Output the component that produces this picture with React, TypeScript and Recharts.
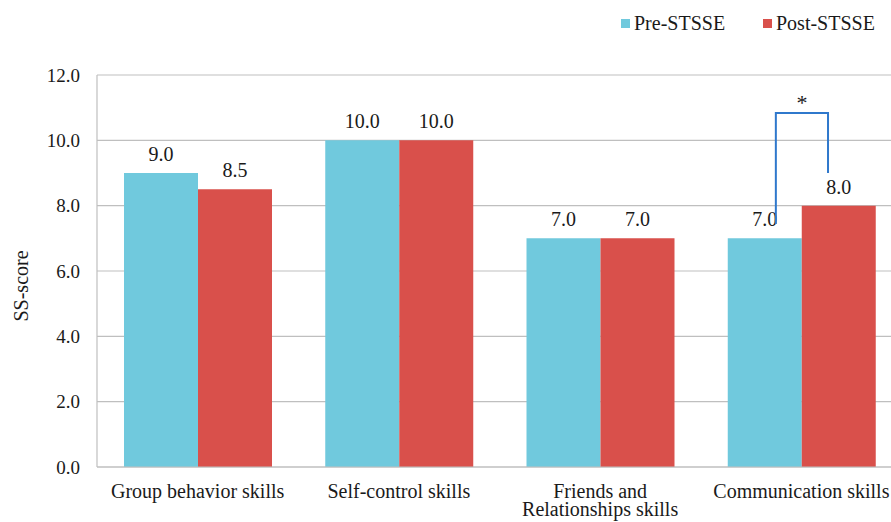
import React from "react";
import {
  BarChart,
  Bar,
  XAxis,
  YAxis,
  CartesianGrid,
  LabelList,
} from "recharts";

const categories = [
  "Group behavior skills",
  "Self-control skills",
  "Friends and\nRelationships skills",
  "Communication skills",
];
const preValues = [9.0, 10.0, 7.0, 7.0];
const postValues = [8.5, 10.0, 7.0, 8.0];
const yTicks = [0, 2, 4, 6, 8, 10, 12];
const seriesNames = ["Pre-STSSE", "Post-STSSE"];

// significance bracket on the "Communication skills" pair (data units)
const bracketIndex = 3;
const bracketTopY = 10.84;
const bracketLeftBottomY = 7.44;
const bracketRightBottomY = 9.0;

const data = categories.map((c, i) => ({
  name: c,
  pre: preValues[i],
  post: postValues[i],
}));

const FONT = "Liberation Serif";
const PRE = "#70c9dd";
const POST = "#d9504b";
const BLUE = "#2f78cc";
const GRID = "#bfbfbf";
const TXT = "#1a1a1a";

const XTick = (props: any) => {
  const { x, y, payload } = props;
  const lines = String(payload.value).split("\n");
  return (
    <text x={x} y={y} textAnchor="middle" fontFamily={FONT} fontSize={20} fill={TXT}>
      {lines.map((l, i) => (
        <tspan key={i} x={x} y={y + 31 + i * 18}>
          {l}
        </tspan>
      ))}
    </text>
  );
};

const Bracket = (props: any) => {
  const { x, y, width, height, value, index } = props;
  if (index !== bracketIndex) return null;
  const v = Number(value);
  const base = Number(y) + Number(height);
  const ppu = Number(height) / v;
  const ys = (d: number) => base - d * ppu;
  const xl = Number(x) + Number(width) * 0.65;
  const xr = Number(x) + Number(width) * 1.355;
  const yt = ys(bracketTopY);
  return (
    <g>
      <path
        d={`M${xl},${ys(bracketLeftBottomY)} L${xl},${yt} L${xr},${yt} L${xr},${ys(bracketRightBottomY)}`}
        fill="none"
        stroke={BLUE}
        strokeWidth={2}
      />
      <text
        x={(xl + xr) / 2}
        y={yt - 3}
        textAnchor="middle"
        fontFamily={FONT}
        fontSize={22}
        fill={TXT}
      >
        *
      </text>
    </g>
  );
};

const LegendBox = () => (
  <div
    style={{
      position: "absolute",
      left: 621,
      top: 11,
      width: 270,
      height: 30,
      fontFamily: FONT,
      fontSize: 20,
      color: TXT,
    }}
  >
    {seriesNames.map((n, i) => (
      <div
        key={n}
        style={{
          position: "absolute",
          left: i === 0 ? 0 : 142,
          top: 0,
          display: "flex",
          alignItems: "center",
          whiteSpace: "nowrap",
          lineHeight: "24px",
        }}
      >
        <div style={{ width: 9, height: 9, background: i === 0 ? PRE : POST, marginRight: 4 }} />
        <span>{n}</span>
      </div>
    ))}
  </div>
);

export default function App() {
  return (
    <div
      style={{
        position: "absolute",
        left: 0,
        top: 0,
        width: 891,
        height: 522,
        overflow: "hidden",
        background: "#fff",
      }}
    >
      <BarChart
        width={902}
        height={522}
        data={data}
        margin={{ top: 75, right: 0, bottom: 0, left: 0 }}
        barCategoryGap={27}
        barGap={0}
      >
        <CartesianGrid vertical={false} stroke={GRID} strokeWidth={1.2} />
        <XAxis
          dataKey="name"
          height={55}
          tick={<XTick />}
          tickLine={false}
          tickSize={0}
          tickMargin={0}
          axisLine={{ stroke: GRID, strokeWidth: 1.2 }}
          interval={0}
        />
        <YAxis
          width={97}
          domain={[0, 12]}
          ticks={yTicks}
          tickFormatter={(v: number) => v.toFixed(1)}
          tickLine={false}
          tickSize={0}
          tickMargin={17}
          axisLine={{ stroke: GRID, strokeWidth: 1.2 }}
          tick={{ fontFamily: FONT, fontSize: 19, fill: TXT }}
          label={{
            content: () => (
              <text
                x={21}
                y={286}
                transform="rotate(-90, 21, 286)"
                textAnchor="middle"
                dominantBaseline="central"
                fontFamily={FONT}
                fontSize={20}
                fill={TXT}
              >
                SS-score
              </text>
            ),
          }}
        />
        <Bar dataKey="pre" name={seriesNames[0]} fill={PRE} isAnimationActive={false}>
          <LabelList
            dataKey="pre"
            position="top"
            offset={12}
            formatter={(v: any) => Number(v).toFixed(1)}
            style={{ fontFamily: FONT, fontSize: 20, fill: TXT }}
          />
          <LabelList dataKey="pre" content={<Bracket />} />
        </Bar>
        <Bar dataKey="post" name={seriesNames[1]} fill={POST} isAnimationActive={false}>
          <LabelList
            dataKey="post"
            position="top"
            offset={12}
            formatter={(v: any) => Number(v).toFixed(1)}
            style={{ fontFamily: FONT, fontSize: 20, fill: TXT }}
          />
        </Bar>
      </BarChart>
      <LegendBox />
    </div>
  );
}
